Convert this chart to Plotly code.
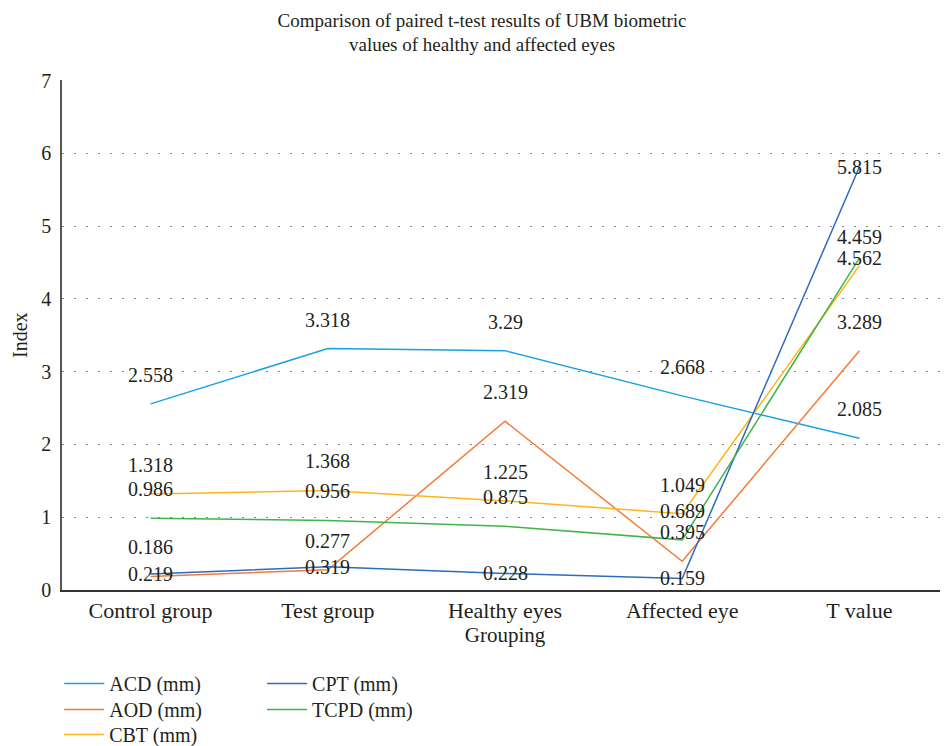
import plotly.graph_objects as go

categories = ["Control group", "Test group", "Healthy eyes", "Affected eye", "T value"]
acd = [2.558, 3.318, 3.29, 2.668, 2.085]
aod = [0.186, 0.277, 2.319, 0.395, 3.289]
cbt = [1.318, 1.368, 1.225, 1.049, 4.459]
cpt = [0.219, 0.319, 0.228, 0.159, 5.815]
tcpd = [0.986, 0.956, 0.875, 0.689, 4.562]
y_ticks = [0, 1, 2, 3, 4, 5, 6, 7]

series = [
    ("ACD (mm)", acd, "#1BA1E2", [29, 29, 29, 29, 29]),
    ("AOD (mm)", aod, "#F47A38", [29, 29, 29, 29, 29]),
    ("CBT (mm)", cbt, "#FDB519", [29, 29, 29, 29, 29]),
    ("CPT (mm)", cpt, "#2B6CBF", [0, 0, 0, 0, 0]),
    ("TCPD (mm)", tcpd, "#3DB54A", [29, 29, 29, 29, 0]),
]
# legend slot (container fractions) for each series: column x, row top y
legend_pos = [(0.054, 0.1206), (0.054, 0.0858), (0.054, 0.0523), (0.268, 0.1206), (0.268, 0.0858)]

FONT = "Liberation Serif, serif"
TXT = "#231f20"

fig = go.Figure()
annotations = []
legends = {}
for i, (name, vals, color, shifts) in enumerate(series):
    lg = "legend" if i == 0 else f"legend{i + 1}"
    fig.add_trace(go.Scatter(x=categories, y=vals, mode="lines", name=name,
                             line=dict(color=color, width=1.5), legend=lg))
    lx, ly = legend_pos[i]
    legends[lg] = dict(xref="container", yref="container", x=lx, y=ly, xanchor="left", yanchor="top",
                       orientation="v", itemwidth=40,
                       font=dict(family=FONT, size=20, color=TXT), bgcolor="rgba(0,0,0,0)")
    for c, v, s in zip(categories, vals, shifts):
        annotations.append(dict(x=c, y=v, text=f"{v:g}", showarrow=False, yshift=s,
                                font=dict(family=FONT, size=20, color=TXT)))

# y-axis title
annotations.append(dict(text="Index", xref="paper", yref="paper", x=-0.0474, y=0.5,
                        xanchor="center", yanchor="middle", textangle=-90, showarrow=False,
                        font=dict(family=FONT, size=20, color=TXT)))

fig.update_layout(
    width=948, height=746,
    margin=dict(l=54, r=8, t=72, b=164, autoexpand=False),
    paper_bgcolor="white", plot_bgcolor="white",
    font=dict(family=FONT, size=20, color=TXT),
    title=dict(text="Comparison of paired t-test results of UBM biometric<br>values of healthy and affected eyes",
               x=0.5, xanchor="center", y=0.975, yanchor="top",
               font=dict(family=FONT, size=19, color=TXT)),
    xaxis=dict(range=[-0.5, 4.5], showgrid=False, showline=True, linecolor="#333", linewidth=2,
               ticks="", tickangle=0, tickfont=dict(family=FONT, size=22, color=TXT), zeroline=False,
               title=dict(text="Grouping", font=dict(family=FONT, size=21, color=TXT), standoff=4)),
    yaxis=dict(range=[0, 7.01], tickvals=y_ticks, showgrid=True, gridcolor="#888", griddash="2px,10px",
               gridwidth=1, showline=True, linecolor="#555", linewidth=1.5, zeroline=False,
               ticks="", tickfont=dict(family=FONT, size=20, color=TXT), ticklabelstandoff=5),
    annotations=annotations,
    showlegend=True,
    **legends,
)

fig.write_html("out.html")
